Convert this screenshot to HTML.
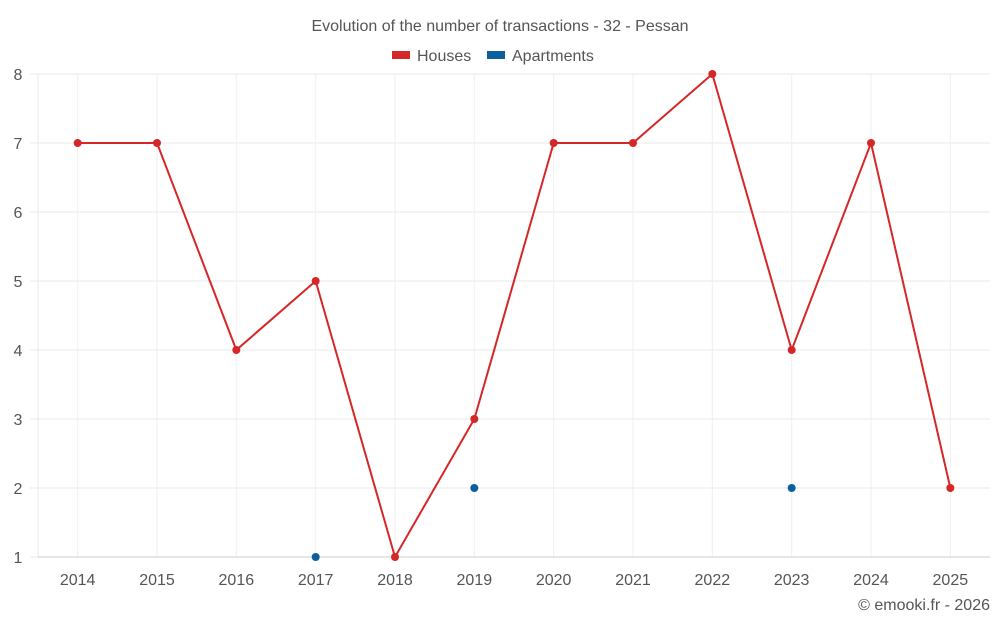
<!DOCTYPE html>
<html><head><meta charset="utf-8"><style>
body{margin:0;background:#fff;font-family:"Liberation Sans",Roboto,sans-serif;}
svg text{font-family:"Liberation Sans",sans-serif;}
</style></head><body>
<svg id="c" width="1000" height="625"></svg>
<script>
const years=["2014","2015","2016","2017","2018","2019","2020","2021","2022","2023","2024","2025"];
const houses=[7,7,4,5,1,3,7,7,8,4,7,2];
const apartments=[null,null,null,1,null,2,null,null,null,2,null,null];
const yTicks=[1,2,3,4,5,6,7,8];
const L=38,R=990,T=74,B=557,yMin=1,yMax=8;
const bw=(R-L)/years.length;
const X=i=>L+bw*(i+0.5);
const Y=v=>B-(v-yMin)/(yMax-yMin)*(B-T);
const svg=document.getElementById('c');const NS='http://www.w3.org/2000/svg';
function mk(t,a,p){const e=document.createElementNS(NS,t);for(const k in a)e.setAttribute(k,a[k]);(p||svg).appendChild(e);return e;}
let t=mk('text',{x:500,y:31,'text-anchor':'middle','font-size':16,fill:'#555'});t.textContent='Evolution of the number of transactions - 32 - Pessan';


// legend
let g=mk('g',{});


mk('rect',{x:392,y:51,width:18,height:8,fill:'#d62728'},g);
t=mk('text',{x:417,y:61,'font-size':16,fill:'#555'},g);t.textContent='Houses';
g=mk('g',{});


mk('rect',{x:487,y:51,width:18,height:8,fill:'#0b5f9e'},g);
t=mk('text',{x:512,y:61,'font-size':16,fill:'#555'},g);t.textContent='Apartments';
// grid
yTicks.forEach(v=>{let l=mk('line',{x1:30,x2:R,y1:Y(v),y2:Y(v),stroke:'#e8e8e8'});


let tx=mk('text',{x:18,y:Y(v)+6,'text-anchor':'middle','font-size':16,fill:'#555'});tx.textContent=v;

});
mk('line',{x1:L,x2:L,y1:T,y2:B,stroke:'#e8e8e8'});
years.forEach((y,i)=>{let l=mk('line',{x1:X(i),x2:X(i),y1:T,y2:B,stroke:'#efefef'});


let tx=mk('text',{x:X(i),y:585,'text-anchor':'middle','font-size':16,fill:'#555'});tx.textContent=y;

});
mk('line',{x1:L,x2:R,y1:B,y2:B,stroke:'#ccc'});
// houses line
let p=mk('polyline',{points:houses.map((v,i)=>X(i)+','+Y(v)).join(' '),fill:'none',stroke:'#d62728','stroke-width':2});


houses.forEach((v,i)=>{let c=mk('circle',{cx:X(i),cy:Y(v),r:4,fill:'#d62728'});

});
apartments.forEach((v,i)=>{if(v==null)return;let c=mk('circle',{cx:X(i),cy:Y(v),r:4,fill:'#0b5f9e'});

});
t=mk('text',{x:990,y:610,'text-anchor':'end','font-size':16,fill:'#555'});t.textContent='© emooki.fr - 2026';


</script>
</body></html>
